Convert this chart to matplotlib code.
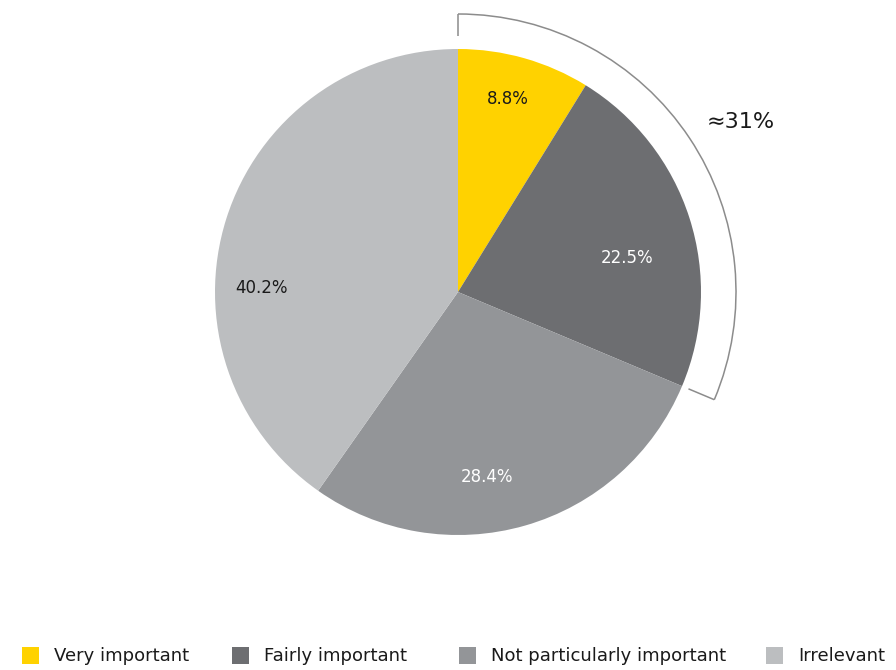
import numpy as np
import matplotlib
matplotlib.use("Agg")
import matplotlib.pyplot as plt
from matplotlib.patches import Arc, Rectangle

categories = ["Very important", "Fairly important", "Not particularly important", "Irrelevant"]
shares = [8.8, 22.5, 28.4, 40.2]
bracket_label = "≈31%"
bracket_share = shares[0] + shares[1]

colors = ["#FFD200", "#6D6E71", "#939598", "#BCBEC0"]
label_colors = ["#1a1a1a", "white", "white", "#1a1a1a"]
# label placement: (angle nudge in degrees, fraction of radius)
label_pos = [(1.5, 0.82), (-6.5, 0.71), (-7, 0.77), (16.5, 0.81)]

plt.rcParams['font.family'] = ['DejaVu Sans']

W, H = 896, 670
fig = plt.figure(figsize=(W / 100, H / 100), dpi=100)
ax = fig.add_axes([0, 0, 1, 1])

cx, cy, r = 458, H - 292, 243
wedges, _ = ax.pie(shares, colors=colors, startangle=90, counterclock=False,
                   center=(cx, cy), radius=r, frame=True,
                   wedgeprops=dict(linewidth=0))
ax.set_xlim(0, W)
ax.set_ylim(0, H)
ax.axis("off")

# percentage labels inside slices
total = sum(shares)
start = 0.0
for v, c, (nudge, frac) in zip(shares, label_colors, label_pos):
    mid = start + v / 2
    ang = np.deg2rad(90 - mid / total * 360 + nudge)
    ax.text(cx + frac * r * np.cos(ang), cy + frac * r * np.sin(ang), f"{v:.1f}%",
            ha="center", va="center", fontsize=12, color=c)
    start += v

# bracket round the first two slices
rb = 278
end_deg = 90 - bracket_share / total * 360
ax.add_patch(Arc((cx, cy), 2 * rb, 2 * rb, theta1=end_deg, theta2=90,
                 color="#8c8c8c", lw=1.1))
for deg, tick in [(90, 22), (end_deg, 28)]:
    a = np.deg2rad(deg)
    ax.plot([cx + rb * np.cos(a), cx + (rb - tick) * np.cos(a)],
            [cy + rb * np.sin(a), cy + (rb - tick) * np.sin(a)],
            color="#8c8c8c", lw=1.1, solid_capstyle="butt")
ax.text(741, H - 122, bracket_label, ha="center", va="center", fontsize=16, color="#1a1a1a")

# legend along the bottom
legend_x = [22, 232, 459, 766]
for x, c, name in zip(legend_x, colors, categories):
    ax.add_patch(Rectangle((x, H - 664), 17, 17, color=c, lw=0))
    ax.text(x + 32, H - 656, name, ha="left", va="center", fontsize=13, color="#1a1a1a")

fig.savefig("out.png", dpi=100)
